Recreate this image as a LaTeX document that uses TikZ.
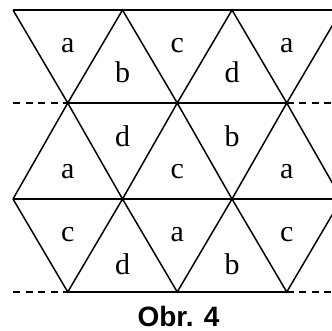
\documentclass[tikz,border=0pt]{standalone}
\usepackage{fontspec}
\setmainfont{Liberation Serif}
\newfontfamily\capfont{Liberation Sans}
\begin{document}
\begin{tikzpicture}[x=1pt,y=-1pt,
  edge/.style={line width=1.5pt, black},
  hline/.style={line width=1.7pt, black},
  dline/.style={line width=1.7pt, black, dash pattern=on 7pt off 5.5pt},
  lab/.style={anchor=base, inner sep=0pt, font=\fontsize{30}{30}\selectfont},
  captext/.style={anchor=base, inner sep=0pt, text depth=0pt, font=\capfont\bfseries\fontsize{28}{28}\selectfont}]
\useasboundingbox (0,0) rectangle (332,331);
% lattice points
\coordinate (A0) at (13,10);    \coordinate (A1) at (122.5,10);
\coordinate (A2) at (232,10);   \coordinate (A3) at (341.5,10);
\coordinate (B0) at (13,103);   \coordinate (B1) at (67.75,103);
\coordinate (B2) at (177.25,103); \coordinate (B3) at (286.75,103);
\coordinate (B4) at (341.5,103);
\coordinate (C0) at (13,199);   \coordinate (C1) at (122.5,199);
\coordinate (C2) at (232,199);  \coordinate (C3) at (341.5,199);
\coordinate (D0) at (13,292);   \coordinate (D1) at (67.75,292);
\coordinate (D2) at (177.25,292); \coordinate (D3) at (286.75,292);
\coordinate (D4) at (341.5,292);
\begin{scope}
\clip (0,0) rectangle (332,331);
% horizontal lines
\draw[hline] (A0) -- (A3);
\draw[dline] (B0) -- (B1);
\draw[hline] (B1) -- (B3);
\draw[dline] (B3) -- (B4);
\draw[hline] (C0) -- (C3);
\draw[dline] (D0) -- (D1);
\draw[hline] (D1) -- (D3);
\draw[dline] (D3) -- (D4);
% row 1 slanted edges
\draw[edge] (A0) -- (B1) -- (A1) -- (B2) -- (A2) -- (B3) -- (A3);
% row 2 slanted edges
\draw[edge] (C0) -- (B1) -- (C1) -- (B2) -- (C2) -- (B3) -- (C3);
% row 3 slanted edges
\draw[edge] (C0) -- (D1) -- (C1) -- (D2) -- (C2) -- (D3) -- (C3);
\end{scope}
% labels row 1
\node[lab] (r1a) at (67.75,53) {a};
\node[lab] (r1b) at (122.5,83) {b};
\node[lab] (r1c) at (177.25,53) {c};
\node[lab] (r1d) at (232,83) {d};
\node[lab] (r1e) at (286.75,53) {a};
% labels row 2
\node[lab] (r2a) at (67.75,179) {a};
\node[lab] (r2b) at (122.5,147) {d};
\node[lab] (r2c) at (177.25,179) {c};
\node[lab] (r2d) at (232,147) {b};
\node[lab] (r2e) at (286.75,179) {a};
% labels row 3
\node[lab] (r3a) at (67.75,242) {c};
\node[lab] (r3b) at (122.5,274) {d};
\node[lab] (r3c) at (177.25,242) {a};
\node[lab] (r3d) at (232,274) {b};
\node[lab] (r3e) at (286.75,242) {c};
% caption
\node[captext] (caption) at (178.5,326) {Obr. 4};
\end{tikzpicture}
\end{document}
